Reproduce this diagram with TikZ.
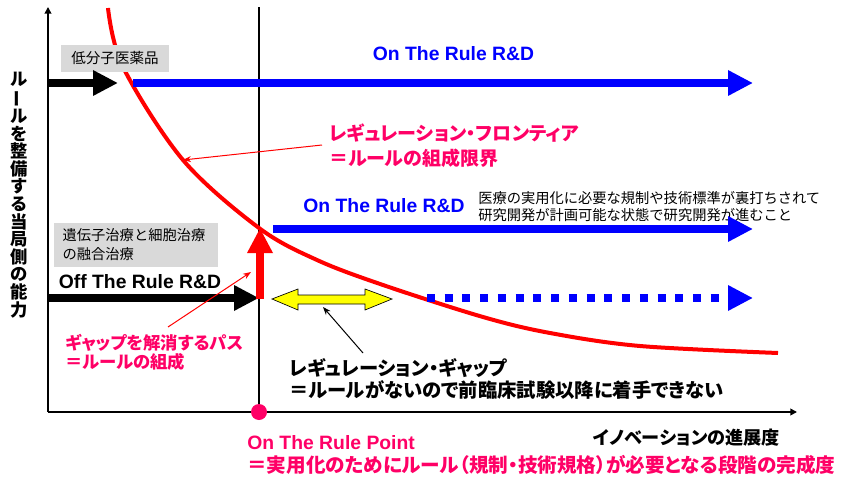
\documentclass[tikz,border=0pt]{standalone}
\usepackage{fontspec}
\usepackage{graphicx}
\setmainfont{Liberation Sans}
\newfontfamily\jp{Noto Sans CJK JP}
\newfontfamily\jpb{Noto Sans CJK JP}[RawFeature=+palt]
\usetikzlibrary{arrows.meta}
\definecolor{pinkred}{HTML}{FF0066}
\definecolor{rblue}{HTML}{0000FF}
\definecolor{lgray}{HTML}{D9D9D9}
\definecolor{yel}{HTML}{FFFF00}
\begin{document}
\begin{tikzpicture}[x=0.75pt,y=-0.75pt,
  axisline/.style={line width=1.5pt,-{Triangle[length=5pt,width=5pt]}},
  plainline/.style={line width=1.5pt},
  fat/.style={line width=6pt,-{Triangle[length=18.75pt,width=18pt]}},
  thinarrow/.style={line width=0.75pt,-{Stealth[length=6pt,width=4.5pt]}},
  graybox/.style={fill=lgray, inner sep=0pt},
  entext/.style={font=\bfseries\fontsize{14.5}{16}\selectfont, inner sep=0pt},
  jbold/.style={font=\jpb\bfseries\fontsize{14.25}{16.5}\selectfont, inner sep=0pt, align=left},
  jsmall/.style={font=\jp\fontsize{10.7}{12.75}\selectfont, inner sep=0pt, align=left}
]
\useasboundingbox (0,0) rectangle (841,477);

% axes
\coordinate (origin) at (48,412);
\coordinate (ytop) at (48,7);
\coordinate (xend) at (797,412);
\coordinate (vtop) at (259,7);
\coordinate (vbot) at (259,412);
\draw[axisline] (origin) -- (ytop);
\draw[axisline] (origin) -- (xend);
\draw[plainline] (vbot) -- (vtop);

% red frontier curve
\draw[red, line width=3pt] plot[smooth, tension=0.55] coordinates {(108,8) (123,67) (183,160) (259,228) (317,260) (383,285) (483,317) (550,333) (640,346) (778,353)};

% top row
\node[graybox, minimum width=81pt, minimum height=20.25pt, font=\jp\fontsize{10.9}{13}\selectfont] (lowbox) at (115,58.5) {低分子医薬品};
\coordinate (a1s) at (48,83);
\coordinate (a1e) at (118,83);
\draw[fat, black] (a1s) -- (a1e);
\coordinate (b1s) at (133,83);
\coordinate (b1e) at (753,83);
\draw[fat, rblue] (b1s) -- (b1e);
\node[entext, text=rblue] (ontop) at (453.5,53.5) {On The Rule R\&D};

% frontier label
\node[jbold, text=pinkred, font=\jpb\bfseries\fontsize{14.25}{18.75}\selectfont, anchor=west] (front) at (329,145.5) {レギュレーション・フロンティア\\＝ルールの組成限界};
\coordinate (fs) at (322,145);
\coordinate (fe) at (183,160);
\draw[thinarrow, red] (fs) -- (fe);

% middle row
\node[entext, text=rblue] (onmid) at (384,206) {On The Rule R\&D};
\node[jsmall, anchor=west] (expl) at (478,206.5) {医療の実用化に必要な規制や技術標準が裏打ちされて\\研究開発が計画可能な状態で研究開発が進むこと};
\coordinate (b2s) at (273,229);
\coordinate (b2e) at (753,229);
\draw[fat, rblue] (b2s) -- (b2e);

\node[graybox, minimum width=123pt, minimum height=33pt, text width=110pt, inner xsep=6.5pt, align=left, font=\jp\fontsize{10.7}{14.25}\selectfont] (genebox) at (136,245) {遺伝子治療と細胞治療\\の融合治療};
\node[entext] (off) at (140,282) {Off The Rule R\&D};
\coordinate (a2s) at (48,298);
\coordinate (a2e) at (259,298);
\draw[fat, black] (a2s) -- (a2e);

% red vertical arrow
\coordinate (rs) at (260,299);
\coordinate (re) at (260,228);
\draw[fat, red] (rs) -- (re);

% yellow double arrow
\draw[fill=yel, draw=black, line width=0.5pt] (272,299) -- (298,289) -- (298,295) -- (365,295) -- (365,289) -- (392,299) -- (365,310) -- (365,304) -- (298,304) -- (298,310) -- cycle;
\coordinate (yb) at (323,307);

% dotted blue arrow
\coordinate (b3s) at (427,298);
\coordinate (b3e) at (753,298);
\draw[fat, rblue, dash pattern=on 6pt off 7.3pt] (b3s) -- (b3e);

% gap path label
\node[jbold, text=pinkred, font=\jpb\bfseries\fontsize{13}{14.25}\selectfont, anchor=west] (gpath) at (65,352.5) {ギャップを解消するパス\\＝ルールの組成};
\coordinate (gs) at (168,327);
\coordinate (ge) at (251,272);
\draw[thinarrow, red] (gs) -- (ge);

% regulation gap label
\node[jbold, font=\jpb\bfseries\fontsize{14.5}{16.5}\selectfont, anchor=west] (rgap) at (289,379) {レギュレーション・ギャップ\\＝ルールがないので前臨床試験以降に着手できない};
\coordinate (rgs) at (363,353);
\draw[thinarrow, black] (rgs) -- (yb);

% on the rule point
\fill[pinkred] (vbot) circle (8);
\node[entext, text=pinkred, anchor=west] (orp) at (247,443) {On The Rule Point};
\node[jbold, text=pinkred, font=\jpb\bfseries\fontsize{14.7}{16}\selectfont, anchor=west] (orp2) at (247,465) {＝実用化のためにルール（規制・技術規格）が必要となる段階の完成度};
\node[jbold, font=\jpb\bfseries\fontsize{13.6}{15}\selectfont, anchor=east] (xlab) at (780,438) {イノベーションの進展度};

% y label
\node[font=\jp\bfseries\fontsize{13}{13.2}\selectfont, align=center, inner sep=0pt] (ylab) at (19,195) {ル\\\rotatebox[origin=c]{90}{ー}\\ル\\を\\整\\備\\す\\る\\当\\局\\側\\の\\能\\力};
\end{tikzpicture}
\end{document}
